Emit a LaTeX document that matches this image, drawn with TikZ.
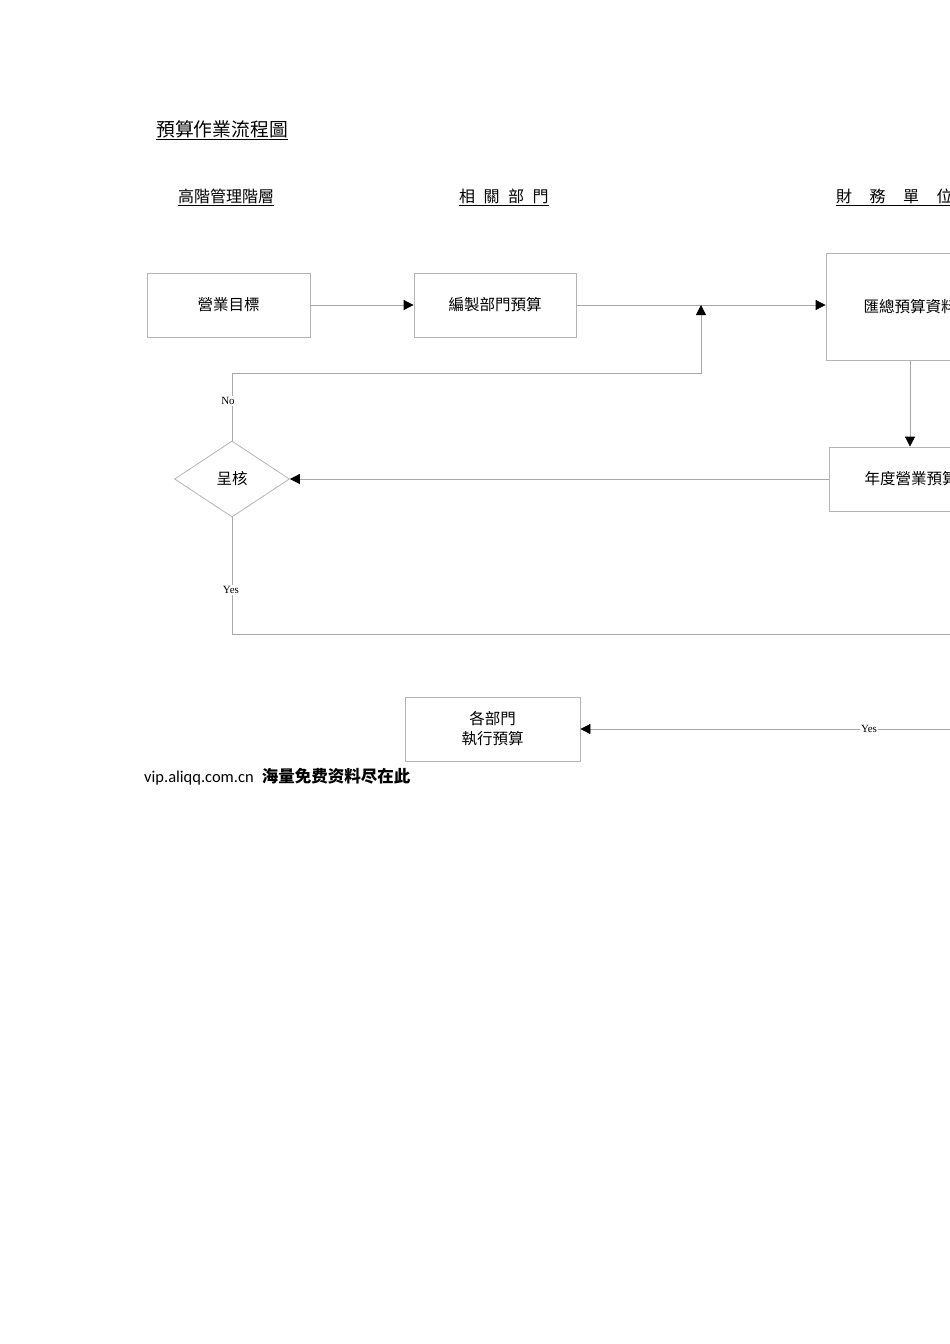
\documentclass[tikz,border=0pt]{standalone}
\usepackage{fontspec}
\setmainfont{Liberation Serif}
\newfontfamily\cjk{Noto Sans CJK TC}
\newfontfamily\cjksc{Noto Sans CJK SC}
\newfontfamily\foot{Carlito}
\usetikzlibrary{arrows.meta,shapes.geometric}
\definecolor{boxgray}{HTML}{B4B4B4}
\definecolor{linegray}{HTML}{A8A8A8}
\begin{document}
\begin{tikzpicture}[x=1pt,y=-1pt,
  box/.style={draw=boxgray,line width=0.8pt,inner sep=0pt,font=\cjk\fontsize{15.5pt}{20pt}\selectfont,align=center},
  dec/.style={diamond,draw=boxgray,line width=0.8pt,inner sep=0pt,font=\cjk\fontsize{15.5pt}{19pt}\selectfont},
  conn/.style={draw=linegray,line width=0.8pt},
  arr/.style={conn,-{Triangle[length=10pt,width=10pt,fill=black,color=black]}},
  lbl/.style={fill=white,inner sep=1pt,font=\fontsize{11pt}{13pt}\selectfont},
  head/.style={font=\cjk\fontsize{16pt}{18pt}\selectfont,inner sep=0pt}]
\useasboundingbox (0,0) rectangle (950,1344);
\fill[white] (0,0) rectangle (950,1344);
\clip (0,0) rectangle (950,1344);
% headings
\node[font=\cjk\fontsize{18.8pt}{20pt}\selectfont,inner sep=0pt,anchor=west] (title) at (156,130) {\underline{預算作業流程圖}};
\node[head,anchor=west] (h1) at (178,197) {\underline{高階管理階層}};
\node[head,anchor=west] (h2) at (459,197) {\underline{相\hspace{8.5pt}關\hspace{8.5pt}部\hspace{8.5pt}門}};
\node[head,anchor=west] (h3) at (836,197) {\underline{財\hspace{17.5pt}務\hspace{17.5pt}單\hspace{17.5pt}位\hspace{17.5pt}}};
% boxes
\node[box,minimum width=163pt,minimum height=64pt] (goal) at (228.5,305) {營業目標};
\node[box,minimum width=162pt,minimum height=64pt] (prep) at (495,305) {編製部門預算};
\node[box,minimum width=168pt,minimum height=107pt] (summ) at (910,306.5) {匯總預算資料};
\node[box,minimum width=164pt,minimum height=64pt] (annual) at (911,479) {年度營業預算};
\node[dec,minimum width=115pt,minimum height=76pt] (review) at (232,479) {呈核};
\node[box,minimum width=175pt,minimum height=64pt] (exec) at (492.5,729) {各部門\\執行預算};
% helper coordinates
\coordinate (junc) at (701,305);
\coordinate (corner) at (701,373);
\coordinate (ybend) at (232,634);
\coordinate (offA) at (1010,634);
\coordinate (offB) at (1010,729);
% connectors
\draw[arr] (goal.east) -- (prep.west);
\draw[arr] (prep.east) -- (prep.east -| summ.west);
\draw[arr] (review.north) |- (corner) -- (junc);
\node[lbl] (no) at (228,401) {No};
\draw[arr] (summ.south) -- (summ.south |- annual.north);
\draw[arr] (annual.west) -- (review.east);
\draw[conn] (review.south) -- (ybend) -- (offA);
\node[lbl] (yes1) at (231,590) {Yes};
\draw[arr] (offB) -- (exec.east);
\node[lbl] (yes2) at (869,729) {Yes};
% footer
\node[anchor=west,inner sep=0pt] (footer) at (144,777) {{\foot\fontsize{16.5pt}{17pt}\selectfont vip.aliqq.com.cn}\hspace{8pt}{\cjksc\bfseries\fontsize{16.5pt}{17pt}\selectfont 海量免费资料尽在此}};
\end{tikzpicture}
\end{document}
